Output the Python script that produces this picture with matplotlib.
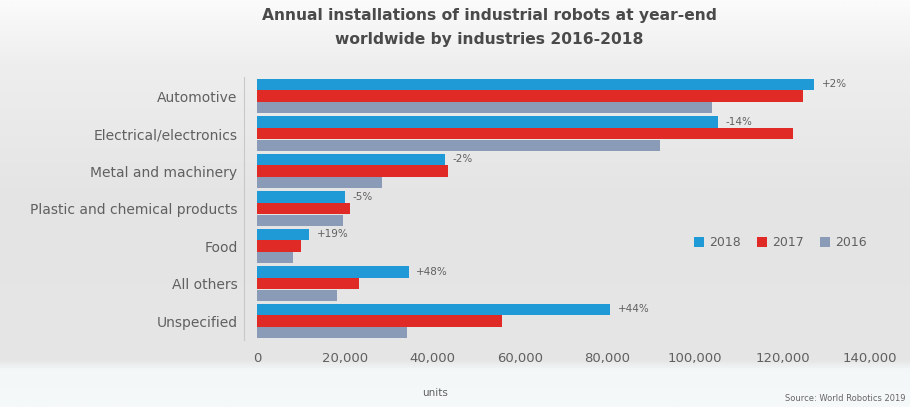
import numpy as np
import matplotlib.pyplot as plt
from matplotlib.colors import LinearSegmentedColormap

industries = ["Automotive", "Electrical/electronics", "Metal and machinery",
              "Plastic and chemical products", "Food", "All others", "Unspecified"]
units_2018 = [127100, 105200, 42900, 20100, 11900, 34600, 80500]
units_2017 = [124600, 122400, 43700, 21200, 10000, 23400, 55900]
units_2016 = [103800, 92000, 28500, 19600, 8200, 18300, 34200]
growth_labels = ["+2%", "-14%", "-2%", "-5%", "+19%", "+48%", "+44%"]
years = ["2018", "2017", "2016"]
x_ticks = [0, 20000, 40000, 60000, 80000, 100000, 120000, 140000]

c_blue = "#1f9ad6"
c_red = "#e02a26"
c_grey = "#8a9bb8"
txt = "#606060"

fig = plt.figure(figsize=(9.10, 4.07), dpi=100)

# soft grey backdrop: white at the top, grey body, pale footer
bg = fig.add_axes([0, 0, 1, 1], zorder=-10)
bg.set_axis_off()
stops = [(0.0, "#fbfbfb"), (0.16, "#eeeeee"), (0.5, "#e4e4e4"),
         (0.89, "#e6e6e6"), (0.91, "#f3f7f8"), (1.0, "#f6f9fa")]
cmap = LinearSegmentedColormap.from_list("bg", stops)
grad = np.linspace(0, 1, 400).reshape(-1, 1)
bg.imshow(grad, aspect="auto", cmap=cmap, extent=[0, 1, 0, 1], origin="upper")

ax = fig.add_axes([0.2824, 0.165, 0.686, 0.645])
ax.patch.set_alpha(0)

y = np.arange(len(industries))
h = 0.30
ax.barh(y - 0.31, units_2018, height=h, color=c_blue, label=years[0])
ax.barh(y, units_2017, height=h, color=c_red, label=years[1])
ax.barh(y + 0.31, units_2016, height=h, color=c_grey, label=years[2])

for yi, v, lab in zip(y, units_2018, growth_labels):
    ax.text(v + 1800, yi - 0.31, lab, va="center", ha="left",
            fontsize=7.5, color=txt)

ax.set_ylim(len(industries) - 0.5, -0.5)
ax.set_xlim(0, 142500)
ax.set_yticks(y)
ax.set_yticklabels(industries, fontsize=9.3)
ax.set_xticks(x_ticks)
ax.set_xticklabels([f"{t:,}" for t in x_ticks], fontsize=9.5)
ax.tick_params(axis="both", length=0, labelcolor=txt)
ax.tick_params(axis="x", pad=9)
ax.tick_params(axis="y", pad=5)

for s in ["top", "right", "bottom"]:
    ax.spines[s].set_visible(False)
ax.spines["left"].set_position(("outward", 9))
ax.spines["left"].set_color("#c8c8c8")

fig.text(435 / 910, 1 - 393 / 407, "units", ha="center", va="center",
         fontsize=7.5, color=txt)

leg = ax.legend(loc="center", bbox_to_anchor=(780 / 910, 1 - 243 / 407),
                bbox_transform=fig.transFigure, ncol=3, frameon=False,
                fontsize=9, handlelength=0.8, handleheight=0.8,
                columnspacing=1.3, handletextpad=0.4)
for t in leg.get_texts():
    t.set_color(txt)

fig.text(0.538, 0.932,
         "Annual installations of industrial robots at year-end\n"
         "worldwide by industries 2016-2018",
         ha="center", va="center", fontsize=11.2, fontweight="bold",
         color="#4a4a4a", linespacing=1.75)

fig.text(0.995, 0.022, "Source: World Robotics 2019", ha="right", va="center",
         fontsize=6, color="#666666")

fig.savefig("out.png", dpi=100)
